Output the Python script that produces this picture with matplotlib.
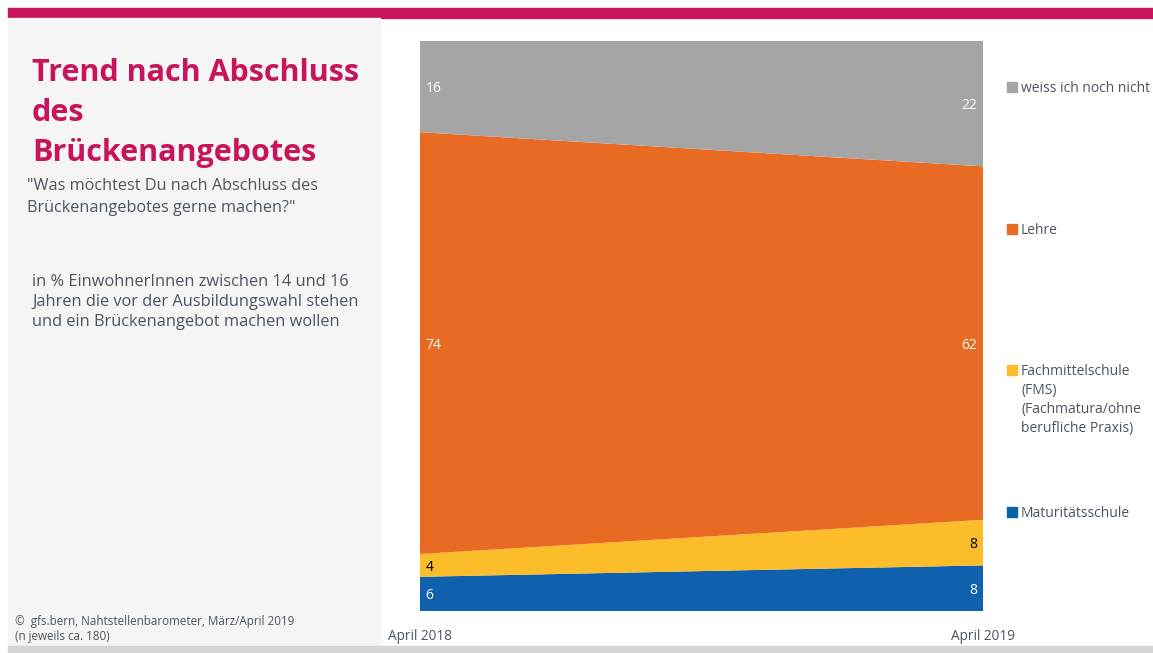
import numpy as np
import matplotlib.pyplot as plt
from matplotlib.patches import Rectangle

plt.rcParams['font.family'] = ['Open Sans', 'DejaVu Sans']

# 數據
periods = ['April 2018', 'April 2019']
categories = ['Maturitätsschule',
              'Fachmittelschule\n(FMS)\n(Fachmatura/ohne\nberufliche Praxis)',
              'Lehre', 'weiss ich noch nicht']
maturitaet = [6, 8]
fms = [4, 8]
lehre = [74, 62]
weiss = [16, 22]
colors = ['#0F61AE', '#FBBD29', '#E86A23', '#A5A5A5']
label_colors = ['white', 'black', 'white', 'white']

W, H = 1153, 653
MAGENTA = '#C8145C'
TEXT = '#4A5562'

fig = plt.figure(figsize=(W / 100, H / 100), dpi=100)
fig.patch.set_facecolor('white')

def px_rect(x0, y0, x1, y1, color):
    # 以像素 (左上為原點) 畫背景矩形
    fig.patches.append(Rectangle((x0 / W, 1 - y1 / H), (x1 - x0) / W, (y1 - y0) / H,
                                 transform=fig.transFigure, color=color, zorder=0))

def px_text(x, y, s, **kw):
    fig.text(x / W, 1 - y / H, s, **kw)

# 背景元素
px_rect(8, 8, W, 18, MAGENTA)
px_rect(8, 18, 380, 646, '#F5F5F5')
px_rect(8, 646, W, H, '#D4D4D4')

# 標題與說明
px_text(32, 113, 'Trend nach Abschluss\ndes\nBrückenangebotes', color=MAGENTA,
        fontsize=22, fontweight='bold', va='center', ha='left', linespacing=1.44)
px_text(27, 197, '"Was möchtest Du nach Abschluss des\nBrückenangebotes gerne machen?"',
        color=TEXT, fontsize=11.7, va='center', ha='left', linespacing=1.45)
px_text(32, 302, 'in % EinwohnerInnen zwischen 14 und 16\nJahren die vor der Ausbildungswahl stehen\n'
        'und ein Brückenangebot machen wollen',
        color=TEXT, fontsize=11.8, va='center', ha='left', linespacing=1.32)
px_text(15, 629, '©  gfs.bern, Nahtstellenbarometer, März/April 2019\n(n jeweils ca. 180)',
        color=TEXT, fontsize=8.4, va='center', ha='left', linespacing=1.15)

# 面積圖
ax = fig.add_axes([420 / W, (H - 611) / H, 563 / W, 570 / H])
x = np.arange(len(periods))
series = [maturitaet, fms, lehre, weiss]
ax.stackplot(x, *series, colors=colors, edgecolor='none')
ax.set_xlim(0, 1)
ax.set_ylim(0, 100)
ax.set_yticks([])
ax.set_xticks(x)
ax.set_xticklabels(periods, fontsize=9.8, color=TEXT)
ax.tick_params(axis='x', length=0, pad=13)
for sp in ax.spines.values():
    sp.set_visible(False)

# 數值標籤
bottoms = np.zeros(len(periods))
for vals, lc in zip(series, label_colors):
    vals = np.array(vals, dtype=float)
    mids = bottoms + vals / 2
    ax.annotate(f'{vals[0]:.0f}', xy=(0, mids[0]), xytext=(4, 0), textcoords='offset points',
                ha='left', va='center_baseline', color=lc, fontsize=10)
    ax.annotate(f'{vals[1]:.0f}', xy=(1, mids[1]), xytext=(-4, 0), textcoords='offset points',
                ha='right', va='center_baseline', color=lc, fontsize=10)
    bottoms += vals

# 圖例
legend_y = [512, 370, 229, 87]
for cat, col, ly in zip(categories, colors, legend_y):
    px_rect(1007, ly - 5, 1017, ly + 5, col)
    px_text(1021, ly - 6, cat, color=TEXT, fontsize=10, va='top', ha='left', linespacing=1.36)

plt.savefig('out.png', dpi=100)
